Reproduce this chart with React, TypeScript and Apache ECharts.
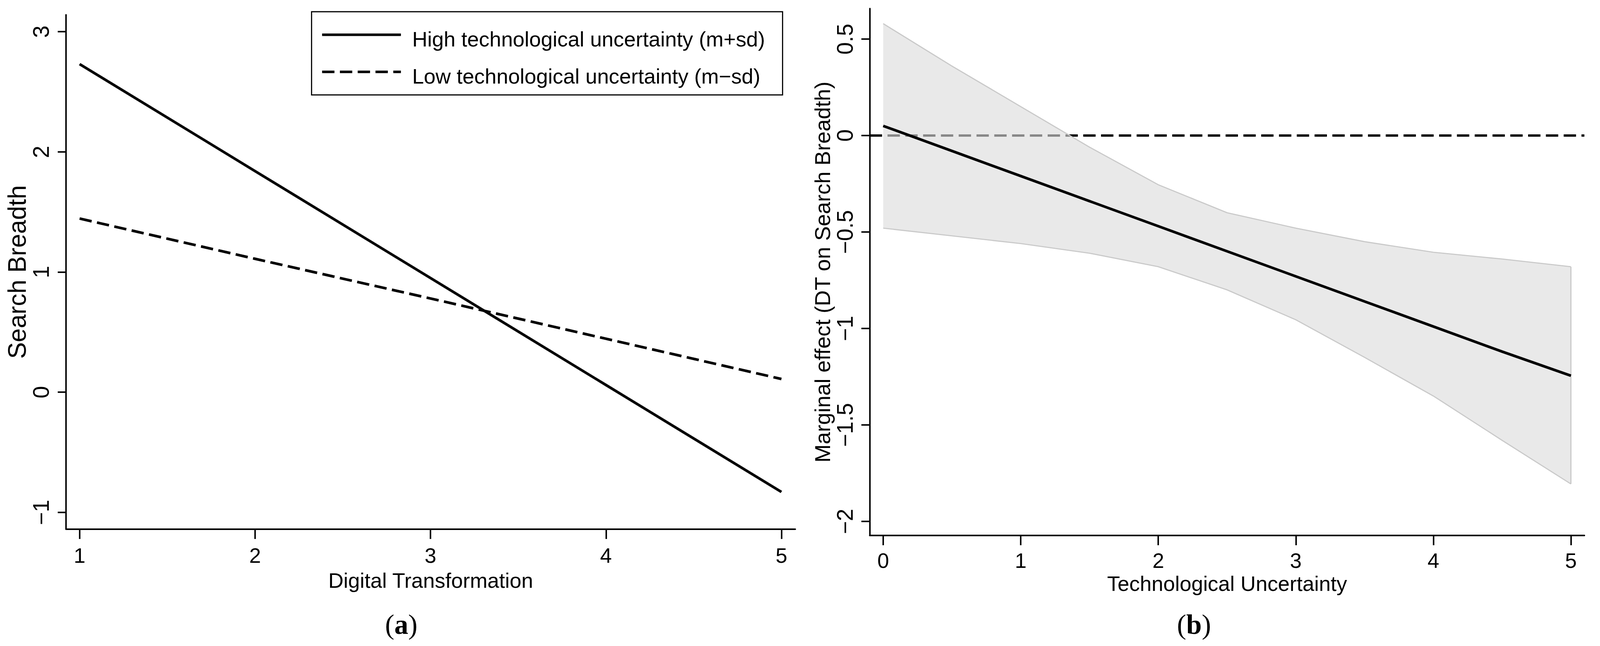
import React, { useEffect, useRef } from 'react';
import * as echarts from 'echarts';

// panel (a): simple slopes
const dtX = [1, 2, 3, 4, 5];
const highTU = [2.73, 1.84, 0.95, 0.06, -0.83];
const lowTU = [1.445, 1.11, 0.78, 0.445, 0.11];
const dtTicks = [1, 2, 3, 4, 5];
const sbTicks = [-1, 0, 1, 2, 3];

// panel (b): marginal effect with confidence band
const tuX = [0, 0.5, 1, 1.5, 2, 2.5, 3, 3.5, 4, 4.5, 5];
const effect = [0.05, -0.08, -0.21, -0.34, -0.47, -0.6, -0.73, -0.86, -0.99, -1.12, -1.245];
const ciUpper = [0.58, 0.36, 0.15, -0.06, -0.255, -0.4, -0.48, -0.55, -0.605, -0.64, -0.68];
const ciLower = [-0.48, -0.52, -0.56, -0.61, -0.68, -0.8, -0.955, -1.15, -1.35, -1.58, -1.806];
const tuTicks = [0, 1, 2, 3, 4, 5];
const meTicks = [-2, -1.5, -1, -0.5, 0, 0.5];

const legendNames = ['High technological uncertainty (m+sd)', 'Low technological uncertainty (m\u2212sd)'];

const SANS = '"Liberation Sans", Arial, sans-serif';
const SERIF = '"Liberation Serif", "Times New Roman", serif';

const minus = (v: number) => String(v).replace('-', '\u2212');

const App: React.FC = () => {
  const chartRef = useRef<HTMLDivElement>(null);

  useEffect(() => {
    const el = chartRef.current!;
    // layout was measured on a 4406x1654 canvas; map it onto the real viewport
    const kx = el.clientWidth / 4406;
    const ky = el.clientHeight / 1654;
    const km = Math.sqrt(kx * ky);
    const px = (v: number) => v * kx;
    const py = (v: number) => v * ky;
    const pw = (v: number) => v * km;
    const DASH = [px(34), px(15)];

    const chart = echarts.init(el, undefined, { renderer: 'svg' });

    const axisLine = { show: true, onZero: false, lineStyle: { color: '#000', width: pw(4) } };

    const xAxisOf = (gridIndex: number, min: number, max: number, ticks: number[], name: string, margin: number, nameGap: number) => ({
      type: 'value',
      gridIndex, min, max, name,
      splitLine: { show: false },
      axisLine,
      nameLocation: 'middle',
      nameGap: py(nameGap),
      nameTextStyle: { fontFamily: SANS, fontSize: px(58), color: '#000' },
      axisTick: { show: true, customValues: ticks, length: py(25), lineStyle: { color: '#000', width: pw(4) } },
      axisLabel: { customValues: ticks, margin: py(margin), fontFamily: SANS, fontSize: px(58), color: '#000', formatter: minus },
    });

    const yAxisOf = (gridIndex: number, min: number, max: number, ticks: number[], name: string, nameSize: number, nameGap: number) => ({
      type: 'value',
      gridIndex, min, max, name,
      splitLine: { show: false },
      axisLine,
      nameLocation: 'middle',
      nameRotate: 90,
      nameGap: px(nameGap),
      nameTextStyle: { fontFamily: SANS, fontSize: py(nameSize), color: '#000' },
      axisTick: { show: true, customValues: ticks, length: px(23), lineStyle: { color: '#000', width: pw(4) } },
      axisLabel: { customValues: ticks, rotate: 90, margin: px(38), fontFamily: SANS, fontSize: py(57), color: '#000', formatter: minus },
    });

    const caption = (letter: string, x: number) => ({
      type: 'text', x: px(x), y: py(1598),
      style: {
        text: `{n|(}{b|${letter}}{n|)}`, align: 'center', verticalAlign: 'middle',
        rich: {
          n: { fontFamily: SERIF, fontSize: pw(74), fill: '#000' },
          b: { fontFamily: SERIF, fontSize: pw(74), fontWeight: 'bold', fill: '#000' },
        },
      },
    });

    const options = {
      animation: false,
      backgroundColor: '#fff',
      grid: [
        { left: px(182), top: py(38), width: px(2008), height: py(1317), outerBoundsMode: 'none' },
        { left: px(2395), top: py(22), width: px(1968), height: py(1349), outerBoundsMode: 'none' },
      ],
      xAxis: [
        xAxisOf(0, 0.923, 5.079, dtTicks, 'Digital Transformation', 40, 104),
        xAxisOf(1, -0.098, 5.098, tuTicks, 'Technological Uncertainty', 37, 92),
      ],
      yAxis: [
        yAxisOf(0, -1.14, 3.14, sbTicks, 'Search Breadth', 64, 88),
        yAxisOf(1, -2.073, 0.658, meTicks, 'Marginal effect (DT on Search Breadth)', 56, 98),
      ],
      graphic: [
        {
          type: 'group',
          children: [
            { type: 'rect', shape: { x: px(858), y: py(30), width: px(1297), height: py(213) }, style: { fill: '#fff', stroke: '#000', lineWidth: pw(3) } },
            { type: 'line', shape: { x1: px(887), y1: py(89), x2: px(1104), y2: py(89) }, style: { stroke: '#000', lineWidth: pw(7) } },
            { type: 'line', shape: { x1: px(887), y1: py(184), x2: px(1104), y2: py(184) }, style: { stroke: '#000', lineWidth: pw(7), lineDash: DASH } },
            { type: 'text', x: px(1135), y: py(100), style: { text: legendNames[0], fontFamily: SANS, fontSize: px(58), fill: '#000', verticalAlign: 'middle' } },
            { type: 'text', x: px(1135), y: py(195), style: { text: legendNames[1], fontFamily: SANS, fontSize: px(58), fill: '#000', verticalAlign: 'middle' } },
          ],
        },
        caption('a', 1105),
        caption('b', 3288),
      ],
      series: [
        {
          name: legendNames[0],
          type: 'line',
          xAxisIndex: 0, yAxisIndex: 0,
          data: dtX.map((x, i) => [x, highTU[i]]),
          symbol: 'none',
          lineStyle: { color: '#000', width: pw(7) },
        },
        {
          name: legendNames[1],
          type: 'line',
          xAxisIndex: 0, yAxisIndex: 0,
          data: dtX.map((x, i) => [x, lowTU[i]]),
          symbol: 'none',
          lineStyle: { color: '#000', width: pw(7), type: DASH },
        },
        {
          name: 'CI',
          type: 'custom',
          xAxisIndex: 1, yAxisIndex: 1,
          z: 2,
          data: tuX.map((x, i) => [x, ciLower[i], ciUpper[i]]),
          encode: { x: 0, y: [1, 2] },
          renderItem: (params: any, api: any) => {
            if (params.dataIndex !== 0) return null;
            const up = tuX.map((x, i) => api.coord([x, ciUpper[i]]));
            const lo = tuX.map((x, i) => api.coord([x, ciLower[i]]));
            const last = tuX.length - 1;
            const edge = { stroke: '#c9c9c9', lineWidth: pw(3), fill: null };
            return {
              type: 'group',
              children: [
                { type: 'polygon', shape: { points: up.concat(lo.slice().reverse()) }, style: { fill: 'rgba(219,219,219,0.62)' } },
                { type: 'polyline', shape: { points: up }, style: edge },
                { type: 'polyline', shape: { points: lo }, style: edge },
                { type: 'line', shape: { x1: up[last][0], y1: up[last][1], x2: lo[last][0], y2: lo[last][1] }, style: edge },
              ],
            };
          },
        },
        {
          name: 'Marginal effect',
          type: 'line',
          xAxisIndex: 1, yAxisIndex: 1,
          z: 3,
          data: tuX.map((x, i) => [x, effect[i]]),
          symbol: 'none',
          lineStyle: { color: '#000', width: pw(7) },
          markLine: {
            z: 1,
            silent: true,
            symbol: ['none', 'none'],
            label: { show: false },
            lineStyle: { color: '#000', width: pw(6), type: DASH },
            data: [{ yAxis: 0 }],
          },
        },
      ],
    };

    chart.setOption(options as any);

    return () => {
      chart.dispose();
    };
  }, []);

  return (
    <div
      ref={chartRef}
      style={{ position: 'fixed', left: 0, top: 0, width: '100vw', height: '100vh', background: '#fff' }}
    />
  );
};

export default App;
